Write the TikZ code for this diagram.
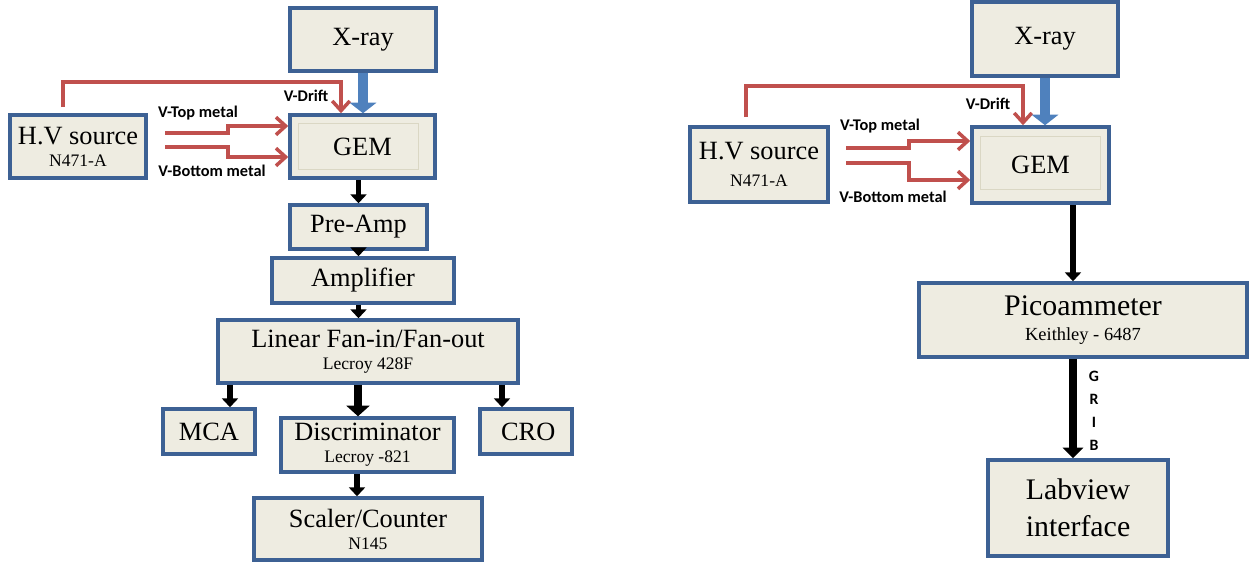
\documentclass[tikz,border=0pt]{standalone}
\usepackage{fontspec}
\setmainfont{Liberation Serif}
\newfontfamily\labelfont{Carlito}
\usepackage{xcolor}
\usetikzlibrary{
		calc,
		positioning,
		arrows.meta
	}
\definecolor{boxfill}{HTML}{EEECE1}
\definecolor{boxline}{HTML}{3D6194}
\definecolor{hvred}{HTML}{C0504D}
\definecolor{beamblue}{HTML}{4F81BD}
\definecolor{gemin}{HTML}{DAD7C4}
\newcommand{\pu}{0.02cm}
\newcommand{\bigtxt}{\fontsize{15}{12.5}\selectfont}
\newcommand{\subtxt}{\fontsize{10}{12}\selectfont}
\newcommand{\bigtxtR}{\fontsize{17}{14}\selectfont}
\newcommand{\subtxtR}{\fontsize{10.5}{12}\selectfont}
\tikzset{
		>=stealth,
		blk/.style={draw=boxline, line width=2pt, fill=boxfill, inner sep=0pt, align=center, font=\bigtxt},
		hvline/.style={hvred, line width=2pt, -{Straight Barb[length=5.5pt,width=10pt]}},
		sig/.style={black, line width=3.2pt, -{Triangle[length=5pt,width=9pt]}},
		sigm/.style={black, line width=4.2pt, -{Triangle[length=6pt,width=11.5pt]}},
		sigw/.style={black, line width=5pt, -{Triangle[length=6pt,width=13pt]}},
		beam/.style={beamblue, line width=6pt, -{Triangle[length=6pt,width=15pt]}},
		vlab/.style={font=\labelfont\bfseries\fontsize{9.3}{10}\selectfont, inner sep=0pt}
	}

\begin{document}
\begin{tikzpicture}[x=\pu, y=-\pu]
		\useasboundingbox (0,0) rectangle (1251,562);
		% counting chain
		\node[blk, minimum width=146*\pu, minimum height=63*\pu] (xrayL) at (363,39.5) {X-ray};
		\node[blk, minimum width=136*\pu, minimum height=63*\pu] (hvL) at (78,146.5) {H.V source\\{\subtxt N471-A}};
		\node[blk, minimum width=145*\pu, minimum height=63*\pu] (gemL) at (362.5,146.5) {GEM};
		\node[blk, minimum width=137*\pu, minimum height=44*\pu] (preamp) at (358.5,227) {Pre-Amp};
		\node[blk, minimum width=182*\pu, minimum height=45*\pu] (amp) at (363,280.5) {Amplifier};
		\node[blk, minimum width=300*\pu, minimum height=63*\pu] (linear) at (368,351.5) {Linear Fan-in/Fan-out\\{\subtxt Lecroy 428F}};
		\node[blk, minimum width=92*\pu, minimum height=45*\pu] (mca) at (209,431.5) {MCA};
		\node[blk, minimum width=173*\pu, minimum height=54*\pu] (disc) at (367.5,445) {Discriminator\\{\subtxt Lecroy -821}};
		\node[blk, minimum width=92*\pu, minimum height=45*\pu] (cro) at (526,431.5) {\,CRO};
		\node[blk, minimum width=228*\pu, minimum height=62*\pu] (scaler) at (368,529) {Scaler/Counter\\{\subtxt N145}};
		\draw[gemin, line width=0.6pt] ($(gemL.north west)+(10,10)$) rectangle ($(gemL.south east)+(-18,-10)$);

		\node[vlab] (drL) at (306,96) {V-Drift};
		\node[vlab] (topL) at (198,113) {V-Top metal};
		\node[vlab] (botL) at (212,171) {V-Bottom metal};
		\coordinate (drL0) at (63,107);
		\coordinate (topL0) at (165,133);
		\coordinate (botL0) at (165,147);
		\draw[hvline] (drL0) -- ++(0,-25) -| ([xshift=-0.43cm]gemL.north);
		\draw[hvline] (topL0) -- ++(63,0) |- ([yshift=0.41cm]gemL.west);
		\draw[hvline] (botL0) -- ++(63,0) |- ([yshift=-0.21cm]gemL.west);

		\draw[beam] (xrayL.south) -- (xrayL.south |- gemL.north);
		\draw[sig] (preamp.north |- gemL.south) -- (preamp.north);
		\draw[sig] (preamp.south) -- (preamp.south |- amp.north);
		\draw[sig] (preamp.south |- amp.south) -- (preamp.south |- linear.north);
		\draw[sig] ([xshift=0.42cm]mca.north |- linear.south) -- ([xshift=0.42cm]mca.north);
		\draw[sigw] ([xshift=-0.19cm]disc.north |- linear.south) -- ([xshift=-0.19cm]disc.north);
		\draw[sig] ([xshift=-0.48cm]cro.north |- linear.south) -- ([xshift=-0.48cm]cro.north);
		\draw[sig] ([xshift=-0.22cm]scaler.north |- disc.south) -- ([xshift=-0.22cm]scaler.north);

		% current readout
		\node[blk, minimum width=146*\pu, minimum height=74*\pu] (xrayR) at (1045,39) {X-ray};
		\node[blk, minimum width=138*\pu, minimum height=75*\pu, font=\fontsize{15}{15}\selectfont] (hvR) at (759,164.5) {H.V source\\{\subtxt N471-A}};
		\node[blk, minimum width=137*\pu, minimum height=76*\pu] (gemR) at (1040.5,165) {GEM};
		\node[blk, minimum width=328*\pu, minimum height=74*\pu, font=\bigtxtR] (pico) at (1083,320) {Picoammeter\\{\subtxtR Keithley - 6487}};
		\node[blk, minimum width=180*\pu, minimum height=96*\pu, font=\fontsize{17}{21}\selectfont] (labview) at (1078,508) {Labview\\interface};
		\draw[gemin, line width=0.6pt] ($(gemR.north west)+(10,11)$) rectangle ($(gemR.south east)+(-10,-15)$);

		\node[vlab] (drR) at (988,104) {V-Drift};
		\node[vlab] (topR) at (880,126) {V-Top metal};
		\node[vlab] (botR) at (893,197) {V-Bottom metal};
		\coordinate (drR0) at (746,117);
		\coordinate (topR0) at (846,148);
		\coordinate (botR0) at (846,163);
		\draw[hvline] (drR0) -- ++(0,-31) -| ([xshift=-0.35cm]gemR.north);
		\draw[hvline] (topR0) -- ++(63,0) |- ([yshift=0.48cm]gemR.west);
		\draw[hvline] (botR0) -- ++(63,0) |- ([yshift=-0.3cm]gemR.west);

		\draw[beam] (xrayR.south) -- (xrayR.south |- gemR.north);
		\draw[sig] ([xshift=0.65cm]gemR.south) -- ([xshift=0.65cm]gemR.south |- pico.north);
		\draw[sigm] ([xshift=0.65cm]gemR.south |- pico.south) -- ([xshift=0.65cm]gemR.south |- labview.north);
		\node[font=\labelfont\bfseries\fontsize{9}{13}\selectfont, align=center, inner sep=0pt] (grib) at (1094,411) {G\\R\\I\\B};
	\end{tikzpicture}
\end{document}
